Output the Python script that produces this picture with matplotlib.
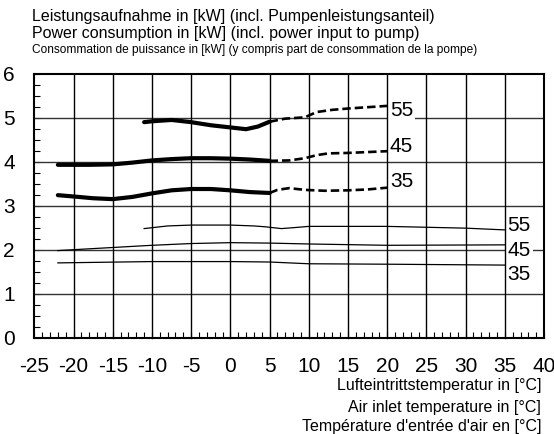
import matplotlib
matplotlib.use('Agg')
import matplotlib.pyplot as plt
from matplotlib.lines import Line2D
from matplotlib.ticker import MultipleLocator

plt.rcParams['font.family'] = ['Liberation Sans', 'DejaVu Sans']
plt.rcParams['axes.unicode_minus'] = False

# heating power curves, flow temperatures 35/45/55
hi55_x = [-11, -10, -7.5, -5, -2.5, 0, 2, 3.5, 5]
hi55_y = [4.9, 4.92, 4.95, 4.9, 4.83, 4.78, 4.74, 4.8, 4.91]
hi55_dx = [5, 7, 9.5, 11, 13, 15, 17.5, 20]
hi55_dy = [4.91, 4.98, 5.01, 5.13, 5.18, 5.21, 5.24, 5.27]

hi45_x = [-22, -18, -15, -12.5, -10, -7.5, -5, -2.5, 0, 2.5, 5]
hi45_y = [3.93, 3.93, 3.94, 3.98, 4.03, 4.06, 4.08, 4.08, 4.07, 4.05, 4.02]
hi45_dx = [5, 7.5, 9.5, 11, 12.5, 15, 17.5, 20]
hi45_dy = [4.02, 4.03, 4.08, 4.15, 4.19, 4.2, 4.22, 4.24]

hi35_x = [-22, -20, -17.5, -15, -12.5, -10, -7.5, -5, -2.5, 0, 2.5, 5]
hi35_y = [3.24, 3.21, 3.17, 3.15, 3.2, 3.28, 3.35, 3.38, 3.38, 3.35, 3.31, 3.29]
hi35_dx = [5, 6, 7.5, 9.5, 12, 15, 17.5, 20]
hi35_dy = [3.29, 3.36, 3.4, 3.36, 3.34, 3.35, 3.37, 3.41]

lo55_x = [-11, -8, -5, 0, 3, 4.5, 6.5, 8, 10, 20, 30, 35]
lo55_y = [2.48, 2.54, 2.56, 2.56, 2.54, 2.52, 2.48, 2.5, 2.53, 2.53, 2.49, 2.45]
lo45_x = [-22, -15, -10, -5, 0, 5, 10, 20, 35]
lo45_y = [1.98, 2.05, 2.1, 2.14, 2.16, 2.15, 2.13, 2.1, 2.11]
lo35_x = [-22, -10, 0, 5, 10, 20, 35]
lo35_y = [1.70, 1.73, 1.73, 1.72, 1.68, 1.67, 1.65]

hi_labels = ['55', '45', '35']
hi_label_y = [5.17, 4.34, 3.55]
lo_labels = ['55', '45', '35']
lo_label_y = [2.56, 1.99, 1.43]

grid_x = [-20, -15, -10, -5, 0, 5, 10, 15, 20, 25, 30, 35]
grid_y = [1, 2, 3, 4, 5]

fig = plt.figure(figsize=(5.54, 4.34), dpi=100)
ax = fig.add_axes([0.062, 0.222, 0.92, 0.608])
ax.set_xlim(-25, 40)
ax.set_ylim(0, 6)

ax.hlines(grid_y, -25, 40, color='#333333', lw=1.0, zorder=2)

for xs, ys in [(hi55_x, hi55_y), (hi45_x, hi45_y), (hi35_x, hi35_y)]:
    ax.plot(xs, ys, color='black', lw=3.0, solid_capstyle='round', zorder=3)
for xs, ys in [(hi55_dx, hi55_dy), (hi45_dx, hi45_dy), (hi35_dx, hi35_dy)]:
    ax.plot(xs, ys, color='black', lw=1.9, dashes=(3.2, 1.5), zorder=3)
for xs, ys in [(lo55_x, lo55_y), (lo45_x, lo45_y), (lo35_x, lo35_y)]:
    ax.plot(xs, ys, color='black', lw=0.9, zorder=3)

box = dict(facecolor='white', edgecolor='none', pad=1.5)
for lab, yy in zip(hi_labels, hi_label_y):
    ax.text(20.35, yy, lab, fontsize=15, va='center', ha='left', bbox=box, zorder=4)
for lab, yy in zip(lo_labels, lo_label_y):
    ax.text(35.35, yy, lab, fontsize=15, va='center', ha='left', bbox=box, zorder=4)

ax.xaxis.set_major_locator(MultipleLocator(5))
ax.xaxis.set_minor_locator(MultipleLocator(1))
ax.yaxis.set_major_locator(MultipleLocator(1))
ax.yaxis.set_minor_locator(MultipleLocator(0.25))
ax.tick_params(which='both', direction='in', top=False, right=False)
ax.tick_params(which='minor', length=4, width=0.8)
ax.tick_params(which='major', length=4, width=0.8, labelsize=15)
ax.tick_params(axis='x', which='major', pad=14)
ax.tick_params(axis='y', which='major', pad=14)
for s in ax.spines.values():
    s.set_linewidth(1.5)

# vertical grid added at figure level, still placed in data coordinates
for gx in grid_x:
    fig.add_artist(Line2D([gx, gx], [0, 6], transform=ax.transData,
                          color='black', lw=1.0, zorder=2))

fig.text(0.057, 0.961, 'Leistungsaufnahme in [kW] (incl. Pumpenleistungsanteil)', fontsize=11.5, va='center')
fig.text(0.057, 0.922, 'Power consumption in [kW] (incl. power input to pump)', fontsize=11.5, va='center')
fig.text(0.057, 0.885, 'Consommation de puissance in [kW] (y compris part de consommation de la pompe)',
         fontsize=8.6, va='center')

fig.text(0.977, 0.112, 'Lufteintrittstemperatur in [°C]', fontsize=11.5, ha='right', va='center')
fig.text(0.977, 0.062, "Air inlet temperature in [°C]", fontsize=11.5, ha='right', va='center')
fig.text(0.977, 0.017, "Température d'entrée d'air en [°C]", fontsize=11.5, ha='right', va='center')

fig.savefig('out.png', dpi=100)
